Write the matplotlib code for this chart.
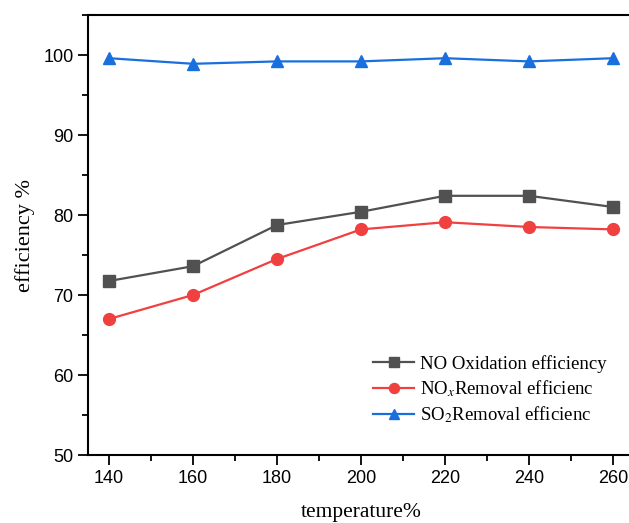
import matplotlib.pyplot as plt
from matplotlib.ticker import MultipleLocator

plt.rcParams['mathtext.fontset'] = 'stix'

temperature = [140, 160, 180, 200, 220, 240, 260]
no_oxidation = [71.75, 73.6, 78.75, 80.4, 82.4, 82.4, 81.0]
nox_removal = [67.0, 70.0, 74.5, 78.2, 79.1, 78.5, 78.2]
so2_removal = [99.6, 98.9, 99.2, 99.2, 99.6, 99.2, 99.6]

labels = ['NO Oxidation efficiency', 'NO$_x$Removal efficienc', 'SO$_2$Removal efficienc']
colors = ['#515151', '#F14040', '#1A6FDF']

fig = plt.figure(figsize=(6.29, 5.23), dpi=100)
ax = fig.add_axes([88 / 629, 68 / 523, 546 / 629, 440 / 523])

ax.plot(temperature, no_oxidation, marker='s', ms=8, color=colors[0], lw=1.6, label=labels[0])
ax.plot(temperature, nox_removal, marker='o', ms=8.5, color=colors[1], lw=1.6, label=labels[1])
ax.plot(temperature, so2_removal, marker='^', ms=9, color=colors[2], lw=1.6, label=labels[2])

ax.set_xlim(135, 265)
ax.set_ylim(50, 105)
ax.xaxis.set_major_locator(MultipleLocator(20))
ax.xaxis.set_minor_locator(MultipleLocator(10))
ax.yaxis.set_major_locator(MultipleLocator(10))
ax.yaxis.set_minor_locator(MultipleLocator(5))
ax.tick_params(which='major', direction='out', length=7, width=1.3, labelsize=13)
ax.tick_params(which='minor', direction='out', length=4, width=1.3)
for lab in ax.get_xticklabels() + ax.get_yticklabels():
    lab.set_family('Liberation Sans')
for s in ax.spines.values():
    s.set_linewidth(1.5)

ax.set_xlabel('temperature%', family='Liberation Serif', fontsize=15.5, labelpad=12)
ax.set_ylabel('efficiency %', family='Liberation Serif', fontsize=16, labelpad=6)

ax.legend(loc='upper left', bbox_to_anchor=(356 / 629, 1 - 338 / 523),
          bbox_transform=fig.transFigure, frameon=False,
          prop={'family': 'Liberation Serif', 'size': 13.5},
          handlelength=2.2, handletextpad=0.3, labelspacing=0.3, markerscale=0.85)

fig.savefig('out.png', dpi=100)
